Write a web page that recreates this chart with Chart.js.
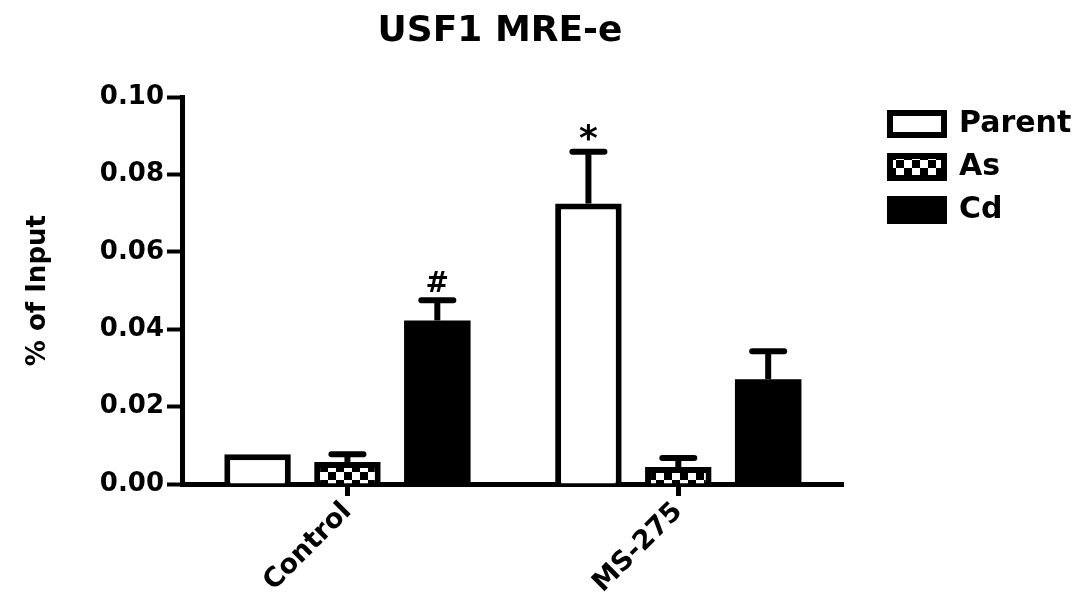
<!DOCTYPE html>
<html>
<head>
<meta charset="utf-8">
<script src="https://cdn.jsdelivr.net/npm/chart.js@4/dist/chart.umd.min.js"></script>
<style>
  html, body { margin: 0; padding: 0; background: #ffffff; }
  #wrap { width: 1084px; height: 592px; }
</style>
</head>
<body>
<div id="wrap"><canvas id="c" width="1084" height="592"></canvas></div>
<script>
// Groups along the x axis
const groups = ['Control', 'MS-275'];

// Mean % of input per cell line
const parentValues = [0.0077, 0.0725];
const asValues     = [0.0057, 0.0044];
const cdValues     = [0.0423, 0.0271];

// Upper error (SEM) per cell line
const parentErrors = [0.0000, 0.0134];
const asErrors     = [0.0020, 0.0023];
const cdErrors     = [0.0052, 0.0072];

// Significance marks printed above the error bars
const parentMarks = ['', '*'];
const asMarks     = ['', ''];
const cdMarks     = ['#', ''];

// Y axis ticks
const yTicks = [0.00, 0.02, 0.04, 0.06, 0.08, 0.10];

const FONT = "'DejaVu Sans', 'Liberation Sans', Arial, sans-serif";

// Black & white checkerboard fill for the As series
function checkerPattern() {
  const cell = 8;
  const pc = document.createElement('canvas');
  pc.width = cell * 2; pc.height = cell * 2;
  const g = pc.getContext('2d');
  g.fillStyle = '#ffffff';
  g.fillRect(0, 0, pc.width, pc.height);
  g.fillStyle = '#000000';
  g.fillRect(0, 0, cell, cell);
  g.fillRect(cell, cell, cell, cell);
  return g.createPattern(pc, 'repeat');
}

const ctx = document.getElementById('c').getContext('2d');
const checker = checkerPattern();

// Error bars with caps plus the significance symbols above them
const errorBarPlugin = {
  id: 'errorBars',
  afterDatasetsDraw(chart) {
    const c = chart.ctx;
    const y = chart.scales.y;
    c.save();
    c.strokeStyle = '#000000';
    c.fillStyle = '#000000';
    c.lineWidth = 6;
    chart.data.datasets.forEach((ds, di) => {
      const meta = chart.getDatasetMeta(di);
      meta.data.forEach((bar, i) => {
        const v = ds.data[i];
        const e = ds.errors[i];
        const yTop = y.getPixelForValue(v);
        const yErr = y.getPixelForValue(v + e);
        if (e > 0) {
          c.lineCap = 'butt';
          c.beginPath();
          c.moveTo(bar.x, yTop);
          c.lineTo(bar.x, yErr);
          c.stroke();
          c.lineCap = 'round';
          c.beginPath();
          c.moveTo(bar.x - 16, yErr);
          c.lineTo(bar.x + 16, yErr);
          c.stroke();
        }
        const mark = ds.marks[i];
        if (mark) {
          const isStar = mark === '*';
          c.font = 'bold ' + (isStar ? 36 : 28) + 'px ' + FONT;
          c.textAlign = 'center';
          c.textBaseline = 'alphabetic';
          c.fillText(mark, bar.x, yErr - (isStar ? 2 : 8));
        }
      });
    });
    c.restore();
  }
};

// Place legend and title blocks
const placeBlocks = {
  id: 'placeBlocks',
  afterLayout(chart) {
    const lg = chart.legend;
    const dx = 887 - (lg.left + lg.options.labels.padding) + 3;
    lg.left += dx; lg.right += dx;
    const dy = 109 - (lg.top + lg.options.labels.padding);
    lg.top += dy; lg.bottom += dy;
    const tb = chart.titleBlock;
    const w = tb.right - tb.left;
    tb.left = 500 - w / 2; tb.right = 500 + w / 2;
  }
};

new Chart(ctx, {
  type: 'bar',
  data: {
    labels: groups,
    datasets: [
      { label: 'Parent', data: parentValues, errors: parentErrors, marks: parentMarks,
        backgroundColor: '#ffffff', borderColor: '#000000', borderWidth: 6 },
      { label: 'As', data: asValues, errors: asErrors, marks: asMarks,
        backgroundColor: checker, borderColor: '#000000', borderWidth: 6 },
      { label: 'Cd', data: cdValues, errors: cdErrors, marks: cdMarks,
        backgroundColor: '#000000', borderColor: '#000000', borderWidth: 0 }
    ]
  },
  options: {
    responsive: false,
    animation: false,
    devicePixelRatio: 1,
    layout: { padding: { left: 0, right: 36, top: 0, bottom: 0 } },
    categoryPercentage: 0.815,
    barPercentage: 0.74,
    plugins: {
      tooltip: { enabled: false },
      title: {
        display: true,
        text: 'USF1 MRE-e',
        color: '#000000',
        font: { family: FONT, size: 36, weight: 'bold' },
        padding: { top: 10, bottom: 44 },
        fullSize: false
      },
      legend: {
        display: true,
        position: 'right',
        align: 'start',
        labels: {
          color: '#000000',
          font: { family: FONT, size: 30, weight: 'bold' },
          boxWidth: 54,
          boxHeight: 22,
          padding: 13,
          generateLabels(chart) {
            const items = Chart.defaults.plugins.legend.labels.generateLabels(chart);
            items.forEach(it => { it.lineWidth = 6; it.strokeStyle = '#000000'; });
            return items;
          }
        }
      }
    },
    scales: {
      x: {
        grid: { display: true, drawOnChartArea: false, offset: false,
                tickLength: 12, tickWidth: 5, tickColor: '#000000' },
        border: { display: true, color: '#000000', width: 5 },
        ticks: {
          color: '#000000',
          font: { family: FONT, size: 27, weight: 'bold' },
          minRotation: 45, maxRotation: 45, padding: 0
        },
        afterFit(scale) { scale.height = 108; }
      },
      y: {
        min: 0, max: 0.1,
        grid: { display: true, drawOnChartArea: false,
                tickLength: 15, tickWidth: 4, tickColor: '#000000' },
        border: { display: true, color: '#000000', width: 5 },
        afterBuildTicks(scale) { scale.ticks = yTicks.map(v => ({ value: v })); },
        ticks: {
          color: '#000000',
          font: { family: FONT, size: 26, weight: 'bold' },
          padding: 3,
          callback: v => v.toFixed(2)
        },
        title: {
          display: true,
          text: '% of Input',
          color: '#000000',
          font: { family: FONT, size: 26, weight: 'bold' },
          padding: { top: 23, bottom: 10 }
        },
        afterFit(scale) { scale.width = 182; }
      }
    }
  },
  plugins: [errorBarPlugin, placeBlocks]
});
</script>
</body>
</html>
